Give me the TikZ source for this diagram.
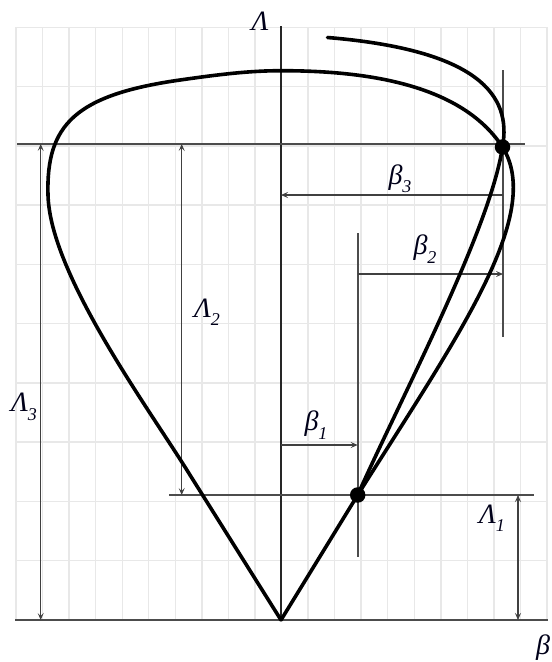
\documentclass[tikz,border=0pt]{standalone}
\usepackage{fontspec}
\setmainfont{Liberation Serif}
\usetikzlibrary{arrows.meta}
\newcommand{\lsub}[1]{\raisebox{-0.3em}{\fontsize{18}{18}\selectfont #1}}
\begin{document}
\begin{tikzpicture}[x=1pt,y=-1pt,
  gridline/.style={draw=black!9, line width=1.4pt},
  axisline/.style={draw=black!85, line width=1.2pt},
  levelline/.style={draw=black!70, line width=2.2pt},
  markline/.style={draw=black!70, line width=1.6pt},
  dimline/.style={draw=black!75, line width=1.3pt},
  tip/.tip={Stealth[length=7pt,width=6pt,inset=3pt]},
  curve/.style={draw=black, line width=3.6pt, line join=round, line cap=round},
  dot/.style={circle, fill=black, inner sep=0pt, minimum size=15.5pt},
  lab/.style={font=\fontsize{28}{28}\selectfont\itshape, inner sep=0pt, text=black!90!blue}
]
\useasboundingbox (0,0) rectangle (552,662);
% grid
\foreach \k in {0,...,20} \draw[gridline] ({16+26.55*\k},27) -- ({16+26.55*\k},620);
\foreach \k in {0,...,10} \draw[gridline] (16,{27.3+59.27*\k}) -- (547,{27.3+59.27*\k});
% coordinates
\coordinate (O) at (281,620);
\coordinate (axtop) at (281,26);
\coordinate (P3) at (502.5,147);
\coordinate (P1) at (357.7,495);
\coordinate (botL) at (15,620);
\coordinate (botR) at (548,620);
\coordinate (h3L) at (17,144);
\coordinate (h3R) at (525,144);
\coordinate (h1L) at (169,495);
\coordinate (h1R) at (534,495);
\coordinate (v3T) at (503,70);
\coordinate (v3B) at (503,337);
\coordinate (v1T) at (357.7,233);
\coordinate (v1B) at (357.7,557);
% axes and level lines
\draw[axisline] (axtop) -- (O);
\draw[levelline] (botL) -- (botR);
\draw[levelline] (h3L) -- (h3R);
\draw[levelline] (h1L) -- (h1R);
\draw[markline] (v3T) -- (v3B);
\draw[markline] (v1T) -- (v1B);
% dimension arrows
\coordinate (L3a) at (40.7,144); \coordinate (L3b) at (40.7,620);
\coordinate (L2a) at (181.7,144); \coordinate (L2b) at (181.7,495);
\coordinate (L1a) at (518,495); \coordinate (L1b) at (518,620);
\coordinate (B3a) at (503,195); \coordinate (B3b) at (281,195);
\coordinate (B2a) at (357.7,274); \coordinate (B2b) at (503,274);
\coordinate (B1a) at (281,445); \coordinate (B1b) at (357.7,445);
\draw[dimline, tip-tip] (L3a) -- (L3b);
\draw[dimline, tip-tip] (L2a) -- (L2b);
\draw[dimline, tip-tip] (L1a) -- (L1b);
\draw[dimline, -tip] (B3a) -- (B3b);
\draw[dimline, -tip] (B2a) -- (B2b);
\draw[dimline, -tip] (B1a) -- (B1b);
% big loop curve
\draw[curve] (O) -- (190,475)
  .. controls (150,410) and (50,275) .. (48,195)
  .. controls (46,125) and (75,95) .. (180,80)
  .. controls (220,74.3) and (250,70.7) .. (281,70.7)
  .. controls (360,70.7) and (460,82) .. (P3)
  .. controls (545,215) and (455,340) .. (P1) -- (O);
% second curve
\draw[curve] (P1)
  .. controls (400,400) and (490,230) .. (P3)
  .. controls (512,95) and (478,50) .. (327.5,37.5);
% dots
\node[dot] (d3) at (P3) {};
\node[dot] (d1) at (P1) {};
% labels
\node[lab] (lLam) at (260,21) {Λ};
\node[lab] (lb3) at (400,179) {β\lsub{3}};
\node[lab] (lb2) at (425,249) {β\lsub{2}};
\node[lab] (lb1) at (316,425) {β\lsub{1}};
\node[lab] (lL2) at (207,312) {Λ\lsub{2}};
\node[lab] (lL3) at (24,407) {Λ\lsub{3}};
\node[lab] (lL1) at (492,518) {Λ\lsub{1}};
\node[lab] (lb) at (543,648) {β};
\end{tikzpicture}
\end{document}
